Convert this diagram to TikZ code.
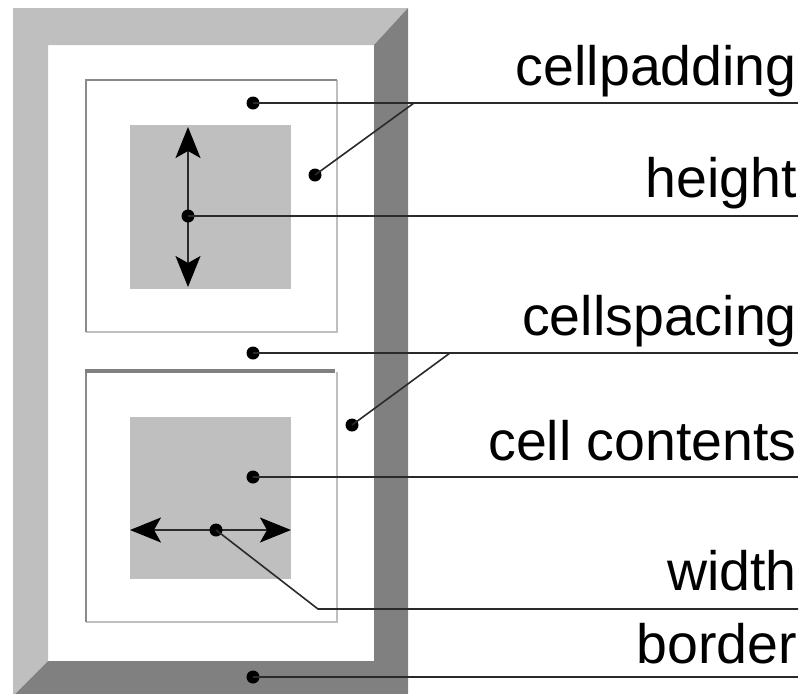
\documentclass[tikz,border=0pt]{standalone}
\usepackage{fontspec}
\setmainfont{Liberation Sans}
\usetikzlibrary{arrows.meta}
\definecolor{bevlight}{HTML}{BFBFBF}
\definecolor{bevdark}{HTML}{808080}
\definecolor{edgemid}{HTML}{8A8A8A}
\definecolor{leadc}{HTML}{2A2A2A}
\begin{document}
\begin{tikzpicture}[x=1pt,y=-1pt,
  dot/.style={circle,fill=black,inner sep=0pt,minimum size=13pt},
  leader/.style={draw=leadc,line width=1.6pt},
  lbl/.style={anchor=base east,inner sep=0pt,font=\fontsize{55.5}{60}\selectfont},
  dimarrow/.style={line width=1.7pt,draw=leadc,
    {Stealth[length=31pt,width=25pt,inset=7pt,black]}-{Stealth[length=31pt,width=25pt,inset=7pt,black]}},
  cellhi/.style={draw=bevlight,line width=2.2pt},
  celllo/.style={draw=edgemid,line width=2.2pt}]
\useasboundingbox (0,0) rectangle (807,694);
\clip (0,0) rectangle (807,694);

% bevelled table border
\fill[bevlight] (13,8) -- (408,8) -- (374,45) -- (48,45) -- (48,661) -- (13,696) -- cycle;
\fill[bevdark] (408,8) -- (408,700) -- (13,700) -- (13,696) -- (48,661) -- (374,661) -- (374,45) -- cycle;

% first cell
\draw[cellhi] (337,80) -- (337,332) -- (86,332);
\draw[celllo] (86,332) -- (86,80) -- (337,80);
\fill[bevlight] (130,125) rectangle (291,289);

% second cell
\draw[cellhi] (337,372) -- (337,622) -- (86,622);
\draw[celllo] (86,622) -- (86,372);
\draw[draw=bevdark,line width=4pt] (85,371) -- (335,371);
\fill[bevlight] (130,417) rectangle (291,579);

% dimension arrows
\coordinate (htop) at (188,127);
\coordinate (hbot) at (188,287);
\draw[dimarrow] (htop) -- (hbot);
\coordinate (wleft) at (130,530);
\coordinate (wright) at (291,530);
\draw[dimarrow] (wleft) -- (wright);

% labels
\node[lbl] (tpad)  at (797,85)  {cellpadding};
\node[lbl] (theight) at (797,197) {height};
\node[lbl] (tspace) at (797,335) {cellspacing};
\node[lbl] (tcont) at (797,460) {cell contents};
\node[lbl] (twidth) at (797,590) {width};
\node[lbl] (tborder) at (797,663) {border};

% leader line ends
\coordinate (epad) at (798,103);
\coordinate (eheight) at (798,216);
\coordinate (espace) at (798,353);
\coordinate (econt) at (798,477);
\coordinate (ewidth) at (798,609);
\coordinate (eborder) at (798,677);
\coordinate (kpad) at (414,103);
\coordinate (kspace) at (450,353);
\coordinate (kwidth) at (318,609);

% marker dots
\node[dot] (dpad) at (253,103) {};
\node[dot] (dpad2) at (315,175) {};
\node[dot] (dheight) at (188,216) {};
\node[dot] (dspace) at (253,353) {};
\node[dot] (dspace2) at (352,425) {};
\node[dot] (dcont) at (253,477) {};
\node[dot] (dwidth) at (216,530) {};
\node[dot] (dborder) at (253,677) {};

% leaders
\draw[leader] (dpad.center) -- (epad);
\draw[leader] (dpad2.center) -- (kpad);
\draw[leader] (dheight.center) -- (eheight);
\draw[leader] (dspace.center) -- (espace);
\draw[leader] (dspace2.center) -- (kspace);
\draw[leader] (dcont.center) -- (econt);
\draw[leader] (dwidth.center) -- (kwidth) -- (ewidth);
\draw[leader] (dborder.center) -- (eborder);
\end{tikzpicture}
\end{document}
